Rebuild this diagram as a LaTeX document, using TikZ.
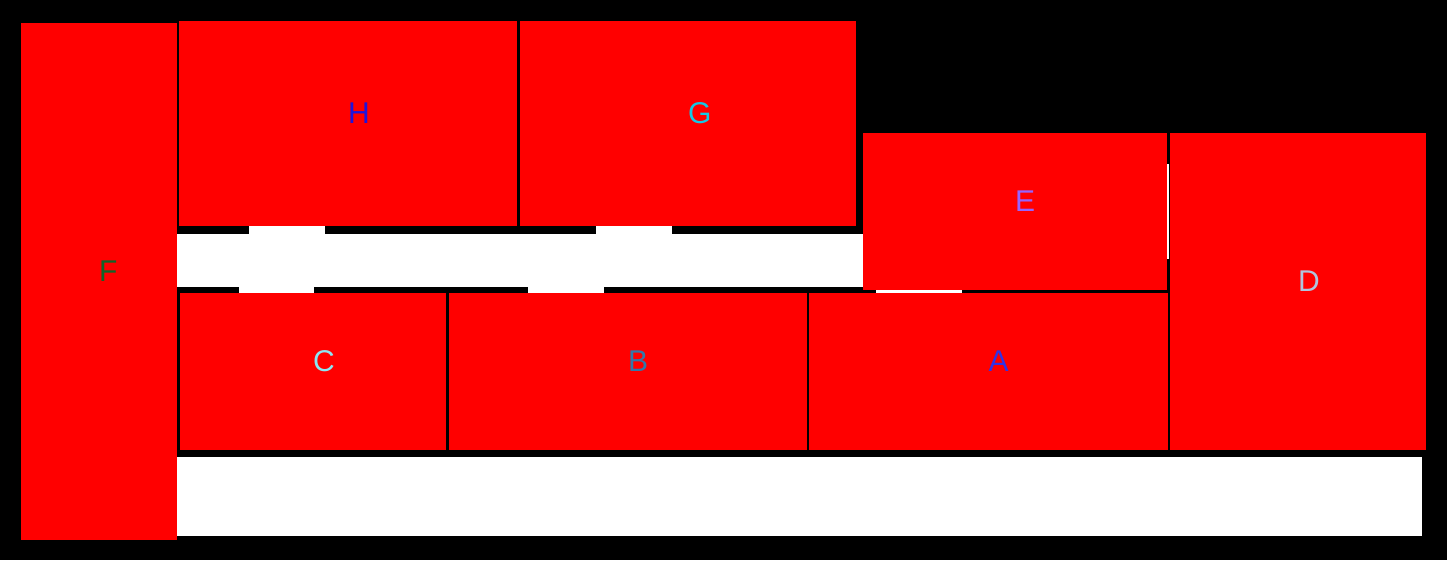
\documentclass[tikz,border=0pt]{standalone}
\usepackage{fontspec}
\setmainfont{Liberation Sans}
\usepackage{xcolor}
\usetikzlibrary{positioning}

\definecolor{labF}{RGB}{16,100,40}
\definecolor{labC}{RGB}{140,230,245}
\definecolor{labB}{RGB}{50,120,170}
\definecolor{labA}{RGB}{50,50,230}
\definecolor{labD}{RGB}{176,196,222}
\definecolor{labE}{RGB}{150,100,255}
\definecolor{labH}{RGB}{30,20,220}
\definecolor{labG}{RGB}{20,200,230}

\begin{document}
\begin{tikzpicture}[
    x=1pt, y=-1pt,
    room/.style={fill=red, inner sep=0pt, outer sep=0pt},
    lbl/.style={anchor=base west, inner sep=0pt, font=\fontsize{30}{30}\selectfont}
]
\useasboundingbox (0,0) rectangle (1447,560);
\fill[black] (0,0) rectangle (1447,560);
% open strips
\fill[white] (177,226) rectangle (863,293);
\fill[white] (177,457) rectangle (1422,536);
\fill[black] (177,226) rectangle (249,234);
\fill[black] (325,226) rectangle (596,234);
\fill[black] (672,226) rectangle (863,234);
\fill[black] (177,287) rectangle (239,293);
\fill[black] (314,287) rectangle (528,293);
\fill[black] (604,287) rectangle (863,293);
\fill[white] (876,290) rectangle (962,293);
\fill[white] (1167,164) rectangle (1169,259);
% rooms
\node[room, minimum width=156pt, minimum height=517pt] (F) at (99,281.5) {};
\node[room, minimum width=338pt, minimum height=205pt] (H) at (348,123.5) {};
\node[room, minimum width=336pt, minimum height=205pt] (G) at (688,123.5) {};
\node[room, minimum width=304pt, minimum height=157pt] (E) at (1015,211.5) {};
\node[room, minimum width=256pt, minimum height=317pt] (D) at (1298,291.5) {};
\node[room, minimum width=266pt, minimum height=157pt] (C) at (313,371.5) {};
\node[room, minimum width=358pt, minimum height=157pt] (B) at (628,371.5) {};
\node[room, minimum width=359pt, minimum height=157pt] (A) at (988.5,371.5) {};
% labels
\foreach \r in {F,H,G,E,D,C,B,A}
  \node[lbl, text=lab\r] (t\r) at (\r.center) {\r};
\end{tikzpicture}
\end{document}
